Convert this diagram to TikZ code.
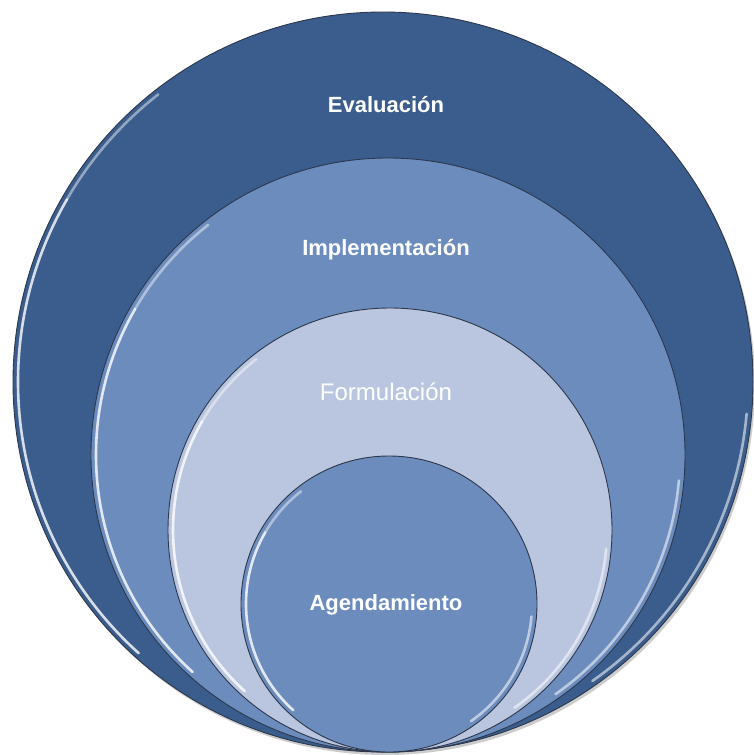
\documentclass[tikz,border=0pt]{standalone}
\usepackage{fontspec}
\setmainfont{Liberation Sans}
\definecolor{cA}{RGB}{58,93,141}
\definecolor{cB}{RGB}{108,140,190}
\definecolor{cC}{RGB}{186,198,223}
\definecolor{cD}{RGB}{108,140,190}
\definecolor{edge}{RGB}{45,55,75}
\tikzset{
  disc/.style={circle, draw=edge, line width=0.9pt, inner sep=0pt},
  hilite/.style={white, line width=2.6pt, opacity=0.8, line cap=round},
  lab/.style={text=white, font=\bfseries\fontsize{22}{26}\selectfont},
  labr/.style={text=white, font=\fontsize{24}{28}\selectfont}
}
\newcommand{\disk}[5]{%
  \node[disc, fill=#4, minimum size=2*#3pt] (#5) at (#1,#2) {};
  \begin{scope}[shift={(#1,#2)}, yscale=-1]
    \draw[hilite, opacity=0.45] (128:#3-5) arc[start angle=128, end angle=150, radius=#3-5];
    \draw[hilite] (150:#3-5) arc[start angle=150, end angle=228, radius=#3-5];
    \draw[hilite, opacity=0.55] (-55:#3-5) arc[start angle=-55, end angle=-5, radius=#3-5];
  \end{scope}}
\begin{document}
\begin{tikzpicture}[x=1pt,y=-1pt]
\useasboundingbox (0,0) rectangle (753,755);
\fill[black, opacity=0.2] (385,385) circle[radius=370];
\disk{383}{382}{370}{cA}{eval}
\disk{388}{455}{297}{cB}{impl}
\disk{390}{530}{222}{cC}{form}
\disk{389}{604}{148}{cD}{agen}
\node[lab] (tEval) at (386,105) {Evaluación};
\node[lab] (tImpl) at (386,250) {Implementación};
\node[labr] (tForm) at (386,392) {Formulación};
\node[lab] (tAgen) at (386,605) {Agendamiento};
\end{tikzpicture}
\end{document}
